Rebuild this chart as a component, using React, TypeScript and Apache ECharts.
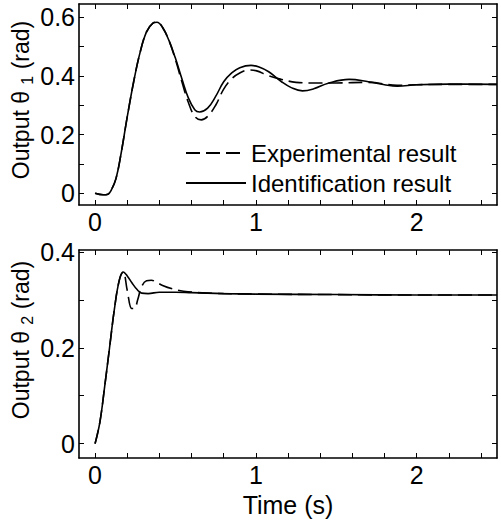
import React, { useEffect, useRef } from "react";
import * as echarts from "echarts";

// ---- Data ----
// Upper plot: theta 1
const expT1 = [0, 0.05, 0.08, 0.1, 0.13, 0.16, 0.2, 0.24, 0.28, 0.32, 0.36, 0.385, 0.42, 0.46, 0.5, 0.54, 0.58, 0.62, 0.66, 0.7, 0.75, 0.8, 0.85, 0.9, 0.96, 1.0, 1.08, 1.16, 1.25, 1.35, 1.5, 1.7, 1.88, 2.0, 2.2, 2.5];
const expV1 = [0, -0.005, -0.003, 0.01, 0.05, 0.13, 0.26, 0.38, 0.48, 0.55, 0.58, 0.583, 0.565, 0.52, 0.455, 0.38, 0.31, 0.262, 0.25, 0.262, 0.3, 0.355, 0.39, 0.41, 0.42, 0.418, 0.4, 0.388, 0.378, 0.376, 0.376, 0.378, 0.368, 0.37, 0.371, 0.371];
const idT1 = [0, 0.05, 0.08, 0.1, 0.13, 0.16, 0.2, 0.24, 0.28, 0.32, 0.36, 0.385, 0.42, 0.46, 0.5, 0.54, 0.58, 0.62, 0.65, 0.7, 0.75, 0.8, 0.85, 0.9, 0.97, 1.02, 1.08, 1.16, 1.22, 1.29, 1.36, 1.45, 1.58, 1.7, 1.8, 1.88, 2.0, 2.2, 2.5];
const idV1 = [0, -0.005, -0.003, 0.01, 0.05, 0.13, 0.26, 0.38, 0.48, 0.55, 0.58, 0.583, 0.565, 0.52, 0.46, 0.39, 0.325, 0.285, 0.277, 0.29, 0.33, 0.38, 0.41, 0.428, 0.436, 0.43, 0.414, 0.38, 0.36, 0.349, 0.356, 0.375, 0.388, 0.38, 0.37, 0.365, 0.37, 0.372, 0.371];
// Lower plot: theta 2
const expT2 = [0, 0.03, 0.06, 0.09, 0.12, 0.15, 0.175, 0.2, 0.228, 0.245, 0.265, 0.29, 0.32, 0.35, 0.38, 0.42, 0.48, 0.55, 0.7, 1.0, 1.5, 2.0, 2.5];
const expV2 = [0, 0.045, 0.12, 0.2, 0.28, 0.34, 0.358, 0.32, 0.282, 0.282, 0.3, 0.328, 0.34, 0.341, 0.337, 0.33, 0.323, 0.318, 0.314, 0.312, 0.311, 0.31, 0.31];
const idT2 = [0, 0.03, 0.06, 0.09, 0.12, 0.15, 0.175, 0.2, 0.23, 0.26, 0.29, 0.33, 0.4, 0.5, 0.6, 0.8, 1.0, 1.5, 2.0, 2.5];
const idV2 = [0, 0.045, 0.12, 0.2, 0.28, 0.34, 0.358, 0.35, 0.335, 0.322, 0.314, 0.313, 0.316, 0.316, 0.315, 0.313, 0.312, 0.311, 0.31, 0.31];

const xLabels = [0, 1, 2];
const xTicks = [0, 0.2, 0.4, 0.6, 0.8, 1, 1.2, 1.4, 1.6, 1.8, 2, 2.2, 2.4];
const y1Labels = [0, 0.2, 0.4, 0.6];
const y1Ticks = [0, 0.1, 0.2, 0.3, 0.4, 0.5, 0.6];
const y2Labels = [0, 0.2, 0.4];
const y2Ticks = [0, 0.1, 0.2, 0.3, 0.4];

const seriesNames = ["Experimental result", "Identification result"];

const FONT = "Liberation Sans, Arial, Helvetica, sans-serif";
const zip = (t: number[], v: number[]) => t.map((x, i) => [x, v[i]]);

export default function App() {
  const ref = useRef<HTMLDivElement>(null);
  useEffect(() => {
    if (!ref.current) return;
    const chart = echarts.init(ref.current, null, { renderer: "svg" });
    const lineAxis = { show: true, lineStyle: { color: "#000", width: 1.6 } };
    const fmt = (v: number) => (v === 0 ? "0" : v.toFixed(1));
    const labelStyle = { fontSize: 25, fontFamily: FONT, color: "#000" };
    const mkX = (gridIndex: number, pos: "bottom" | "top", showLabels: boolean, name?: string) => ({
      type: "value",
      gridIndex,
      position: pos,
      min: -0.1,
      max: 2.5,
      axisLine: { ...lineAxis, onZero: false },
      axisTick: { show: true, inside: true, length: 5, customValues: xTicks, lineStyle: { color: "#000", width: 1 } },
      axisLabel: showLabels
        ? { show: true, customValues: xLabels, margin: 4, ...labelStyle, formatter: (v: number) => String(v) }
        : { show: false },
      splitLine: { show: false },
      name: name || "",
      nameLocation: "middle",
      nameGap: 34,
      nameTextStyle: { fontSize: 25, fontFamily: FONT, color: "#000" },
    });
    const mkY = (gridIndex: number, pos: "left" | "right", min: number, max: number, labels: number[], ticks: number[], showLabels: boolean, name?: string, shift = 0) => ({
      type: "value",
      gridIndex,
      position: pos,
      min,
      max,
      axisLine: { ...lineAxis, onZero: false },
      axisTick: { show: true, inside: true, length: 5, customValues: ticks, lineStyle: { color: "#000", width: 1 } },
      axisLabel: showLabels
        ? { show: true, customValues: labels, margin: 4, ...labelStyle, formatter: fmt }
        : { show: false },
      splitLine: { show: false },
      name: name || "",
      nameLocation: "middle",
      nameRotate: 90,
      nameGap: 44,
      nameMoveOverlap: false,
      nameTextStyle: {
        fontSize: 23,
        fontFamily: FONT,
        color: "#000",
        padding: [0, 0, 0, shift],
        rich: {
          sub: { fontSize: 16, fontFamily: FONT, color: "#000", padding: [12, 0, 0, 0] },
        },
      },
    });

    const lineBase = { type: "line", showSymbol: false, symbol: "none", smooth: 0.4 };
    chart.setOption({
      animation: false,
      backgroundColor: "#fff",
      grid: [
        { left: 79, top: 4, width: 418, height: 201, outerBoundsMode: "none", containLabel: false },
        { left: 79, top: 250, width: 418, height: 208, outerBoundsMode: "none", containLabel: false },
      ],
      xAxis: [
        mkX(0, "bottom", true),
        mkX(0, "top", false),
        mkX(1, "bottom", true, "Time (s)"),
        mkX(1, "top", false),
      ],
      yAxis: [
        mkY(0, "left", -0.04, 0.645, y1Labels, y1Ticks, true, "Output θ {sub|1} (rad)", 9),
        mkY(0, "right", -0.04, 0.645, y1Labels, y1Ticks, false),
        mkY(1, "left", -0.03, 0.404, y2Labels, y2Ticks, true, "Output θ {sub|2} (rad)", 28),
        mkY(1, "right", -0.03, 0.404, y2Labels, y2Ticks, false),
      ],
      legend: {
        orient: "vertical",
        left: 185,
        top: 141,
        padding: 0,
        itemWidth: 60,
        itemHeight: 14,
        itemGap: 6,
        data: seriesNames,
        itemStyle: { opacity: 0 },
        textStyle: { fontSize: 24, fontFamily: FONT, color: "#000" },
      },
      series: [
        { ...lineBase, name: seriesNames[0], xAxisIndex: 0, yAxisIndex: 0, data: zip(expT1, expV1), lineStyle: { color: "#000", width: 1.6, type: [14, 6] }, itemStyle: { color: "#000" } },
        { ...lineBase, name: seriesNames[1], xAxisIndex: 0, yAxisIndex: 0, data: zip(idT1, idV1), lineStyle: { color: "#000", width: 1.6, type: "solid" }, itemStyle: { color: "#000" } },
        { ...lineBase, name: seriesNames[0], xAxisIndex: 2, yAxisIndex: 2, data: zip(expT2, expV2), lineStyle: { color: "#000", width: 1.6, type: [14, 6] }, itemStyle: { color: "#000" } },
        { ...lineBase, name: seriesNames[1], xAxisIndex: 2, yAxisIndex: 2, data: zip(idT2, idV2), lineStyle: { color: "#000", width: 1.6, type: "solid" }, itemStyle: { color: "#000" } },
      ],
    });
    return () => chart.dispose();
  }, []);
  return <div ref={ref} style={{ position: "fixed", left: 0, top: 0, width: 501, height: 521 }} />;
}
